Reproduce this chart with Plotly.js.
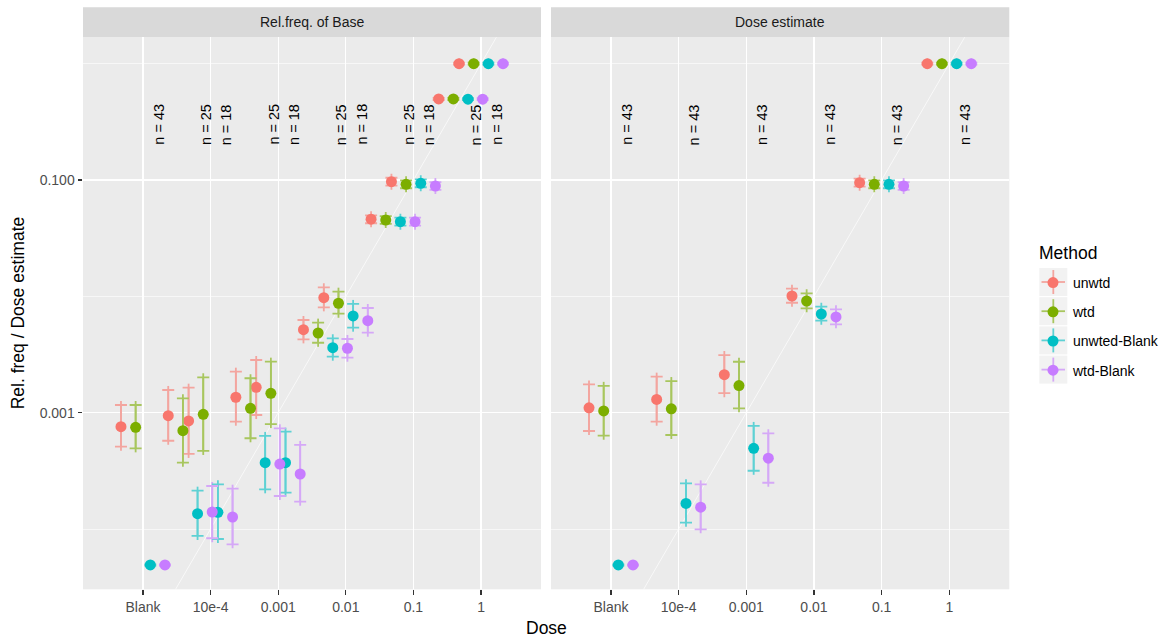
<!DOCTYPE html>
<html>
<head>
<meta charset="utf-8">
<script src="https://cdn.plot.ly/plotly-3.0.1.min.js"></script>
<style>html,body{margin:0;padding:0;background:#fff;}#chart{width:1166px;height:641px;}</style>
</head>
<body>
<div id="chart"></div>
<script>
// ---------------- data ----------------
const methods = ['unwtd', 'wtd', 'unwted-Blank', 'wtd-Blank'];
const facetTitles = ['Rel.freq. of Base', 'Dose estimate'];
const legendTitle = 'Method';

const xTickVals = [1e-5, 1e-4, 1e-3, 1e-2, 0.1, 1];
const xTickText = ['Blank', '10e-4', '0.001', '0.01', '0.1', '1'];
const yTickVals = [0.001, 0.1];
const yTickText = ['0.001', '0.100'];
const yMinorVals = [1e-4, 0.01, 1];

// Panel 1: Rel.freq. of Base
const baseDose = [1e-5, 5e-5, 1e-4, 5e-4, 1e-3, 5e-3, 1e-2, 5e-2, 0.1, 0.5, 1];
const baseN    = [43, 25, 18, 25, 18, 25, 18, 25, 18, 25, 18];

const base_unwtd    = [7.58e-4, 9.42e-4, 8.49e-4, 1.357e-3, 1.653e-3, 5.17e-3, 9.74e-3, 0.0460, 0.0967, 0.497, 1.0];
const base_unwtd_lo = [5.10e-4, 5.74e-4, 4.42e-4, 8.37e-4, 9.55e-4, 4.27e-3, 8.05e-3, 0.0425, 0.0894, 0.487, 0.98];
const base_unwtd_hi = [1.164e-3, 1.567e-3, 1.640e-3, 2.251e-3, 2.837e-3, 6.26e-3, 1.196e-2, 0.0497, 0.1046, 0.507, 1.02];

const base_wtd    = [7.49e-4, 7.00e-4, 9.69e-4, 1.091e-3, 1.468e-3, 4.84e-3, 8.72e-3, 0.0453, 0.0918, 0.497, 1.0];
const base_wtd_lo = [4.94e-4, 3.72e-4, 4.69e-4, 6.03e-4, 7.99e-4, 3.99e-3, 7.09e-3, 0.0419, 0.0849, 0.487, 0.98];
const base_wtd_hi = [1.164e-3, 1.329e-3, 2.015e-3, 1.976e-3, 2.744e-3, 5.94e-3, 1.096e-2, 0.0490, 0.0993, 0.507, 1.02];

const base_unwtdB    = [4.91e-5, 1.355e-4, 1.393e-4, 3.72e-4, 3.72e-4, 3.62e-3, 6.78e-3, 0.0438, 0.0937, 0.495, 1.0];
const base_unwtdB_lo = [4.85e-5, 8.72e-5, 8.21e-5, 2.196e-4, 2.053e-4, 3.03e-3, 5.38e-3, 0.0405, 0.0866, 0.485, 0.98];
const base_unwtdB_hi = [4.97e-5, 2.136e-4, 2.424e-4, 6.31e-4, 6.87e-4, 4.36e-3, 8.60e-3, 0.0474, 0.1013, 0.505, 1.02];

const base_wtdB    = [4.91e-5, 1.401e-4, 1.269e-4, 3.62e-4, 2.972e-4, 3.58e-3, 6.18e-3, 0.0438, 0.0888, 0.495, 1.0];
const base_wtdB_lo = [4.85e-5, 8.33e-5, 7.39e-5, 1.923e-4, 1.718e-4, 2.97e-3, 4.87e-3, 0.0405, 0.0821, 0.485, 0.98];
const base_wtdB_hi = [4.97e-5, 2.344e-4, 2.222e-4, 7.34e-4, 5.28e-4, 4.30e-3, 7.94e-3, 0.0474, 0.0960, 0.505, 1.02];

// Panel 2: Dose estimate
const estDose = [1e-5, 1e-4, 1e-3, 1e-2, 0.1, 1];
const estN    = [43, 43, 43, 43, 43, 43];

const est_unwtd    = [1.10e-3, 1.30e-3, 2.12e-3, 1.007e-2, 0.0948, 1.0];
const est_unwtd_lo = [6.96e-4, 8.37e-4, 1.47e-3, 8.81e-3, 0.0876, 0.98];
const est_unwtd_hi = [1.75e-3, 2.04e-3, 3.13e-3, 1.164e-2, 0.1026, 1.02];

const est_wtd    = [1.035e-3, 1.08e-3, 1.71e-3, 9.12e-3, 0.0918, 1.0];
const est_wtd_lo = [6.34e-4, 6.43e-4, 1.09e-3, 7.89e-3, 0.0849, 0.98];
const est_wtd_hi = [1.70e-3, 1.87e-3, 2.74e-3, 1.062e-2, 0.0993, 1.02];

const est_unwtdB    = [4.91e-5, 1.66e-4, 4.94e-4, 7.05e-3, 0.0918, 1.0];
const est_unwtdB_lo = [4.85e-5, 1.135e-4, 3.17e-4, 6.18e-3, 0.0849, 0.98];
const est_unwtdB_hi = [4.97e-5, 2.47e-4, 7.69e-4, 8.15e-3, 0.0993, 1.02];

const est_wtdB    = [4.91e-5, 1.54e-4, 4.06e-4, 6.65e-3, 0.0888, 1.0];
const est_wtdB_lo = [4.85e-5, 9.95e-5, 2.50e-4, 5.75e-3, 0.0821, 0.98];
const est_wtdB_hi = [4.97e-5, 2.42e-4, 6.65e-4, 7.74e-3, 0.0960, 1.02];

// ---------------- style ----------------
const FONT = 'Liberation Sans, Arial, sans-serif';
const colors    = ['#F8766D', '#7CAE00', '#00BFC4', '#C77CFF'];
const barColors = ['#F3A59F', '#A8C65E', '#5ED1D4', '#D5A8F7'];
const DODGE = 0.2168;            // dodge step (decades)
const CAP_EXT = 1.083;           // errorbar line extends past cap
const LABEL_SHIFT = 0.24;        // n-label offset (decades)
const LABEL_Y = 0.3;

const panels = [
  {dose: baseDose, n: baseN, xa: 'x', ya: 'y',
   series: [[base_unwtd, base_unwtd_lo, base_unwtd_hi], [base_wtd, base_wtd_lo, base_wtd_hi],
            [base_unwtdB, base_unwtdB_lo, base_unwtdB_hi], [base_wtdB, base_wtdB_lo, base_wtdB_hi]]},
  {dose: estDose, n: estN, xa: 'x2', ya: 'y2',
   series: [[est_unwtd, est_unwtd_lo, est_unwtd_hi], [est_wtd, est_wtd_lo, est_wtd_hi],
            [est_unwtdB, est_unwtdB_lo, est_unwtdB_hi], [est_wtdB, est_wtdB_lo, est_wtdB_hi]]}
];

const traces = [];
const extTraces = [];
const mainTraces = [];
panels.forEach((p, pi) => {
  // identity line
  traces.push({x: [1e-7, 100], y: [1e-7, 100], xaxis: p.xa, yaxis: p.ya, mode: 'lines',
    line: {color: 'rgba(255,255,255,0.85)', width: 0.8}, showlegend: false, hoverinfo: 'skip'});
  p.series.forEach((s, mi) => {
    const off = Math.pow(10, (mi - 1.5) * DODGE);
    const xs = p.dose.map(d => d * off);
    const [y, lo, hi] = s;
    extTraces.push({x: xs, y: y, xaxis: p.xa, yaxis: p.ya, mode: 'markers', type: 'scatter',
      marker: {size: 1, opacity: 0}, showlegend: false, hoverinfo: 'skip',
      error_y: {type: 'data', symmetric: false,
        array: y.map((v, i) => hi[i] * CAP_EXT - v), arrayminus: y.map((v, i) => v - lo[i] / CAP_EXT),
        color: barColors[mi], thickness: 1.8, width: 0}});
    mainTraces.push({x: xs, y: y, xaxis: p.xa, yaxis: p.ya, mode: 'markers', type: 'scatter',
      name: methods[mi], legendgroup: methods[mi], showlegend: pi === 0,
      marker: {size: 11, color: colors[mi]},
      error_y: {type: 'data', symmetric: false,
        array: y.map((v, i) => hi[i] - v), arrayminus: y.map((v, i) => v - lo[i]),
        color: barColors[mi], thickness: 1.8, width: 6}});
  });
});
const data = traces.concat(extTraces, mainTraces);

// ---------------- layout ----------------
const W = 1166, H = 641;
const px = v => v / W, py = v => (H - v) / H;
const dom1 = [px(83), px(541)], dom2 = [px(551), px(1009.3)];
const ydom = [py(589.3), py(37.3)];
const xr = [-5.887, 0.887], yr = [-4.518, 0.2265];

function xaxisDef(showLabels) {
  return {type: 'log', range: xr, tickvals: xTickVals, ticktext: xTickText,
    showgrid: true, gridcolor: '#FFFFFF', gridwidth: 1.3, zeroline: false, showline: false,
    ticks: 'outside', ticklen: 4.5, tickwidth: 1.1, tickcolor: '#333333',
    tickfont: {family: FONT, size: 14, color: '#4D4D4D'}, showticklabels: showLabels};
}
function yaxisDef(showLabels) {
  return {type: 'log', range: yr, tickvals: yTickVals, ticktext: yTickText,
    showgrid: true, gridcolor: '#FFFFFF', gridwidth: 1.3, zeroline: false, showline: false,
    ticks: showLabels ? 'outside' : '', ticklen: 4.5, tickwidth: 1.1, tickcolor: '#333333',
    tickfont: {family: FONT, size: 14, color: '#4D4D4D'}, showticklabels: showLabels,
    minor: {tickvals: yMinorVals, showgrid: true, gridcolor: '#FFFFFF', gridwidth: 0.6, ticks: ''}};
}

const shapes = [];
const annotations = [];
[dom1, dom2].forEach((d, i) => {
  shapes.push({type: 'rect', xref: 'paper', yref: 'paper', x0: d[0], x1: d[1],
    y0: py(37.3), y1: py(7.3), fillcolor: '#D9D9D9', line: {width: 0}, layer: 'below'});
  annotations.push({xref: 'paper', yref: 'paper', x: (d[0] + d[1]) / 2, y: py(22.3),
    text: facetTitles[i], showarrow: false, xanchor: 'center', yanchor: 'middle',
    font: {family: FONT, size: 14, color: '#1A1A1A'}});
});
panels.forEach(p => {
  p.dose.forEach((d, i) => {
    annotations.push({xref: p.xa, yref: p.ya, x: Math.log10(d) + LABEL_SHIFT, y: Math.log10(LABEL_Y),
      text: 'n = ' + p.n[i], textangle: -90, showarrow: false, xanchor: 'center', yanchor: 'middle',
      font: {family: FONT, size: 14.5, color: '#000000'}});
  });
});
annotations.push({xref: 'paper', yref: 'paper', x: px(546), y: py(628), text: 'Dose', showarrow: false,
  xanchor: 'center', yanchor: 'middle', font: {family: FONT, size: 17.5, color: '#000000'}});
annotations.push({xref: 'paper', yref: 'paper', x: px(18), y: py(313.3), text: 'Rel. freq / Dose estimate',
  textangle: -90, showarrow: false, xanchor: 'center', yanchor: 'middle',
  font: {family: FONT, size: 17.5, color: '#000000'}});
annotations.push({xref: 'paper', yref: 'paper', x: px(1037), y: py(253), text: legendTitle, showarrow: false,
  xanchor: 'left', yanchor: 'middle', font: {family: FONT, size: 17.5, color: '#000000'}});

// legend key boxes + crosshair
const keyCenters = [282, 311.2, 340.4, 369.6];
keyCenters.forEach((c, i) => {
  shapes.push({type: 'rect', xref: 'paper', yref: 'paper', x0: px(1039.3), x1: px(1067.3),
    y0: py(c + 14), y1: py(c - 14), fillcolor: '#F2F2F2', line: {width: 0}, layer: 'above'});
  shapes.push({type: 'line', xref: 'paper', yref: 'paper', x0: px(1053.3), x1: px(1053.3),
    y0: py(c + 12), y1: py(c - 12), line: {color: barColors[i], width: 1.8}, layer: 'above'});
  shapes.push({type: 'line', xref: 'paper', yref: 'paper', x0: px(1041.5), x1: px(1065),
    y0: py(c), y1: py(c), line: {color: barColors[i], width: 1.8}, layer: 'above'});
});

const layout = {
  width: W, height: H, margin: {l: 0, r: 0, t: 0, b: 0},
  paper_bgcolor: '#FFFFFF', plot_bgcolor: '#EBEBEB',
  font: {family: FONT},
  xaxis: Object.assign(xaxisDef(true), {domain: dom1, anchor: 'y'}),
  xaxis2: Object.assign(xaxisDef(true), {domain: dom2, anchor: 'y2'}),
  yaxis: Object.assign(yaxisDef(true), {domain: ydom, anchor: 'x'}),
  yaxis2: Object.assign(yaxisDef(false), {domain: ydom, anchor: 'x2'}),
  showlegend: true,
  legend: {x: px(1033), y: py(267), xanchor: 'left', yanchor: 'top', bgcolor: 'rgba(0,0,0,0)',
    font: {family: FONT, size: 14, color: '#000000'}, tracegroupgap: 8},
  shapes: shapes, annotations: annotations, hovermode: false
};

Plotly.newPlot('chart', data, layout, {staticPlot: true, displayModeBar: false});
</script>
</body>
</html>
